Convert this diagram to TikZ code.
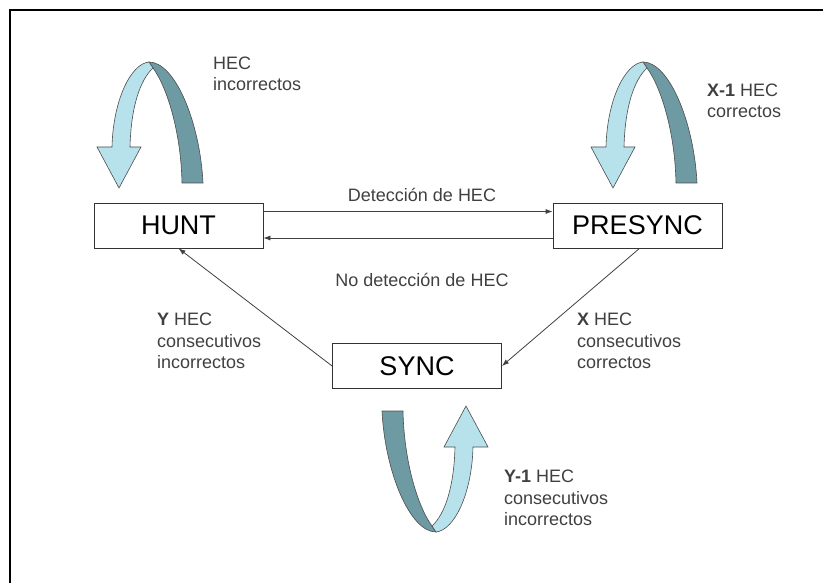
\documentclass[tikz,border=0pt]{standalone}
\usepackage{fontspec}
\setmainfont{Liberation Sans}
\usetikzlibrary{arrows.meta}
\definecolor{ribbonlight}{RGB}{183,226,236}
\definecolor{ribbondark}{RGB}{110,154,163}
\tikzset{%
  state/.style={draw=black!80,fill=white,line width=0.8pt,minimum width=169pt,minimum height=45pt,inner sep=0,font=\fontsize{27}{30}\selectfont},
  lbl/.style={text=black!75,align=left,anchor=west,inner sep=0,font=\fontsize{18}{21.5}\selectfont},
  tr/.style={draw=black!75,line width=0.8pt,-{Latex[length=7pt,width=5pt]}},
  ribbon/.pic={
    \filldraw[fill=ribbondark,draw=black!70,line width=0.6pt]
      (-6,0) .. controls (20,0) and (45,60) .. (48,121) -- (27,121)
      .. controls (26,70) and (12,25) .. (-2,6) -- cycle;
    \filldraw[fill=ribbonlight,draw=black!70,line width=0.6pt]
      (-43,85) .. controls (-42,40) and (-25,2) .. (-6,0) -- (-2,6)
      .. controls (-15,18) and (-24,45) .. (-25,85) -- (-14,85) -- (-36,126) -- (-58,85) -- cycle;
  }
}

\begin{document}
\begin{tikzpicture}[x=1pt,y=-1pt]
    \useasboundingbox (0,0) rectangle (823,583);
    \draw[line width=2.7pt] (10,583) -- (10,10) -- (823,10);
    % loops
    \pic at (155,62) {ribbon};
    \pic at (649,62) {ribbon};
    \pic[rotate=180] at (430,532) {ribbon};
    % states
    \path
      (178.5,225.5) node[state] (hunt) {HUNT}
      (637.5,225.5) node[state] (presync) {PRESYNC}
      (417,366) node[state] (sync) {SYNC};
    \draw[tr] ([yshift=14pt]hunt.east) -- ([yshift=14pt]presync.west);
    \draw[tr] ([yshift=-12.5pt]presync.west) -- ([yshift=-12.5pt]hunt.east);
    \draw[tr] ([xshift=2pt]presync.south) -- (sync.east);
    \draw[tr] (sync.west) -- (hunt.south);
    % labels
    \path
      (422,195) node[lbl,anchor=center] (det) {Detección de HEC}
      (422,280) node[lbl,anchor=center] (nodet) {No detección de HEC}
      (213,74) node[lbl] (hecinc) {HEC\\incorrectos}
      (707,101) node[lbl] (xone) {\textbf{X-1} HEC\\correctos}
      (157,341) node[lbl] (yhec) {\textbf{Y} HEC\\consecutivos\\incorrectos}
      (577,341) node[lbl] (xhec) {\textbf{X} HEC\\consecutivos\\correctos}
      (504,498) node[lbl] (yone) {\textbf{Y-1} HEC\\consecutivos\\incorrectos};
  \end{tikzpicture}
\end{document}
